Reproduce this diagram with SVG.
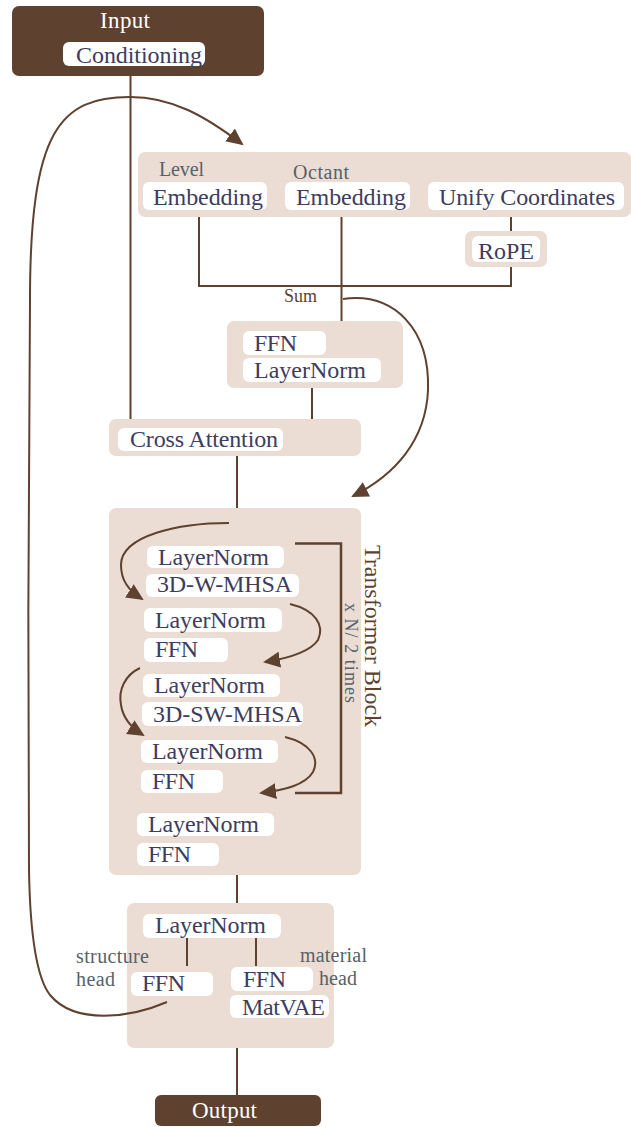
<svg xmlns="http://www.w3.org/2000/svg" width="631" height="1127" viewBox="0 0 631 1127">
<style>
.dark{fill:#5e412f}
.box{fill:#ebddd4}
.pill{fill:#ffffff}
.t{font-family:"Liberation Serif","DejaVu Serif",serif;font-size:24px;fill:#3d3d5e}
.w{font-family:"Liberation Serif","DejaVu Serif",serif;font-size:23px;fill:#ffffff}
.g{font-family:"Liberation Serif","DejaVu Serif",serif;font-size:20px;fill:#56626b}
.tb{font-family:"Liberation Serif","DejaVu Serif",serif;font-size:24px;fill:#5e412f}
.ln{fill:none;stroke:#5e412f;stroke-width:2}
.br{fill:none;stroke:#5e412f;stroke-width:2.5}
</style>
<defs>
<marker id="ah" markerUnits="userSpaceOnUse" markerWidth="18" markerHeight="16" refX="15" refY="8" orient="auto">
<path d="M0,0 L17,8 L0,16 z" fill="#5e412f"/>
</marker>
</defs>

<g id="input">
<rect class="dark" x="12" y="6" width="252" height="70" rx="7"/>
<text class="w" x="100" y="28" textLength="50">Input</text>
<rect class="pill" x="63" y="42" width="142" height="24" rx="6"/>
<text class="t" x="76" y="63" textLength="126">Conditioning</text>
</g>

<g id="embeddings">
<rect class="box" x="138" y="152" width="493" height="65" rx="7"/>
<text class="g" x="159" y="176" textLength="45">Level</text>
<text class="g" x="293" y="179" textLength="56">Octant</text>
<rect class="pill" x="143" y="182" width="124" height="28" rx="6"/>
<text class="t" x="153" y="205" textLength="110">Embedding</text>
<rect class="pill" x="285" y="182" width="125" height="28" rx="6"/>
<text class="t" x="296" y="205" textLength="110">Embedding</text>
<rect class="pill" x="428" y="182" width="196" height="28" rx="6"/>
<text class="t" x="439" y="205" textLength="176">Unify Coordinates</text>
</g>

<g id="rope">
<rect class="box" x="465" y="231" width="82" height="36" rx="7"/>
<rect class="pill" x="472" y="236" width="68" height="26" rx="6"/>
<text class="t" x="478" y="259" textLength="56">RoPE</text>
</g>

<g id="sum">
<text class="tb" x="284" y="302" style="font-size:18px" textLength="33">Sum</text>
</g>

<g id="ffn-norm">
<rect class="box" x="227" y="321" width="176" height="67" rx="7"/>
<rect class="pill" x="243" y="331" width="83" height="24" rx="6"/>
<text class="t" x="254" y="351" textLength="43">FFN</text>
<rect class="pill" x="243" y="358" width="138" height="24" rx="6"/>
<text class="t" x="254" y="378" textLength="112">LayerNorm</text>
</g>

<g id="cross-attention">
<rect class="box" x="109" y="419" width="252" height="37" rx="7"/>
<rect class="pill" x="118" y="428" width="165" height="23" rx="6"/>
<text class="t" x="130" y="447" textLength="148">Cross Attention</text>
</g>

<g id="transformer-block">
<rect class="box" x="109" y="508" width="252" height="367" rx="7"/>
<rect class="pill" x="147" y="546" width="137" height="22" rx="6"/>
<text class="t" x="158" y="565" textLength="111">LayerNorm</text>
<rect class="pill" x="146" y="574" width="153" height="23" rx="6"/>
<text class="t" x="157" y="592" textLength="135">3D-W-MHSA</text>
<rect class="pill" x="144" y="608" width="138" height="24" rx="6"/>
<text class="t" x="155" y="628" textLength="111">LayerNorm</text>
<rect class="pill" x="144" y="638" width="84" height="24" rx="6"/>
<text class="t" x="155" y="657" textLength="43">FFN</text>
<rect class="pill" x="143" y="674" width="137" height="23" rx="6"/>
<text class="t" x="154" y="693" textLength="111">LayerNorm</text>
<rect class="pill" x="142" y="702" width="161" height="24" rx="6"/>
<text class="t" x="153" y="722" textLength="149">3D-SW-MHSA</text>
<rect class="pill" x="141" y="740" width="137" height="23" rx="6"/>
<text class="t" x="152" y="759" textLength="111">LayerNorm</text>
<rect class="pill" x="141" y="770" width="82" height="23" rx="6"/>
<text class="t" x="152" y="789" textLength="43">FFN</text>
<rect class="pill" x="137" y="813" width="137" height="23" rx="6"/>
<text class="t" x="148" y="832" textLength="111">LayerNorm</text>
<rect class="pill" x="137" y="843" width="82" height="23" rx="6"/>
<text class="t" x="148" y="862" textLength="43">FFN</text>
<text class="tb" transform="translate(365,545) rotate(90)" textLength="182">Transformer Block</text>
<text class="g" transform="translate(345,603) rotate(90)" style="font-size:18px" textLength="100">x N/ 2 times</text>
</g>

<g id="heads">
<rect class="box" x="127" y="903" width="207" height="145" rx="7"/>
<rect class="pill" x="143" y="914" width="138" height="24" rx="6"/>
<text class="t" x="155" y="933" textLength="111">LayerNorm</text>
<text class="g" x="76" y="963" textLength="73">structure</text>
<text class="g" x="76" y="986" textLength="39">head</text>
<text class="g" x="300" y="962" textLength="67">material</text>
<text class="g" x="319" y="985" textLength="38">head</text>
<rect class="pill" x="131" y="972" width="82" height="24" rx="6"/>
<text class="t" x="142" y="991" textLength="43">FFN</text>
<rect class="pill" x="231" y="967" width="82" height="24" rx="6"/>
<text class="t" x="243" y="987" textLength="43">FFN</text>
<rect class="pill" x="230" y="995" width="99" height="23" rx="6"/>
<text class="t" x="242" y="1015" textLength="83">MatVAE</text>
</g>

<g id="output">
<rect class="dark" x="155" y="1095" width="166" height="31" rx="6"/>
<text class="w" x="192" y="1118" textLength="65">Output</text>
</g>

<g id="connectors">
<line class="ln" x1="130.5" y1="76" x2="130.5" y2="419"/>
<polyline class="ln" points="199,217 199,286 511,286 511,267"/>
<line class="ln" x1="511" y1="217" x2="511" y2="231"/>
<line class="ln" x1="341.5" y1="217" x2="341.5" y2="321"/>
<line class="ln" x1="312" y1="388" x2="312" y2="419"/>
<line class="ln" x1="237" y1="456" x2="237" y2="508"/>
<line class="ln" x1="237" y1="875" x2="237" y2="903"/>
<line class="ln" x1="187" y1="938" x2="187" y2="966"/>
<line class="ln" x1="256" y1="938" x2="256" y2="966"/>
<line class="ln" x1="237" y1="1048" x2="237" y2="1095"/>
<path class="ln" d="M343,299 C395,292 430,330 428,390 C426,440 395,475 353,496" marker-end="url(#ah)"/>
<path class="ln" d="M229,523 C180,523 121,535 121,565 C121,580 128,590 142,599" marker-end="url(#ah)"/>
<path class="ln" d="M290,604 C315,610 325,625 318,640 C310,652 290,658 265,662" marker-end="url(#ah)"/>
<path class="ln" d="M140,668 C125,675 118,690 121,705 C123,718 130,727 143,735" marker-end="url(#ah)"/>
<path class="ln" d="M285,737 C310,743 320,758 313,772 C305,785 285,790 261,793" marker-end="url(#ah)"/>
<polyline class="br" points="295,543.5 341,543.5 341,793 295,793"/>
<path class="ln" d="M167,1002 C130,1018 75,1025 50,995 C36,977 30,930 29,870 C28,700 28,450 30,300 C30,130 60,97 130,97 C172,97 205,116 242,144" marker-end="url(#ah)"/>
</g>
</svg>
